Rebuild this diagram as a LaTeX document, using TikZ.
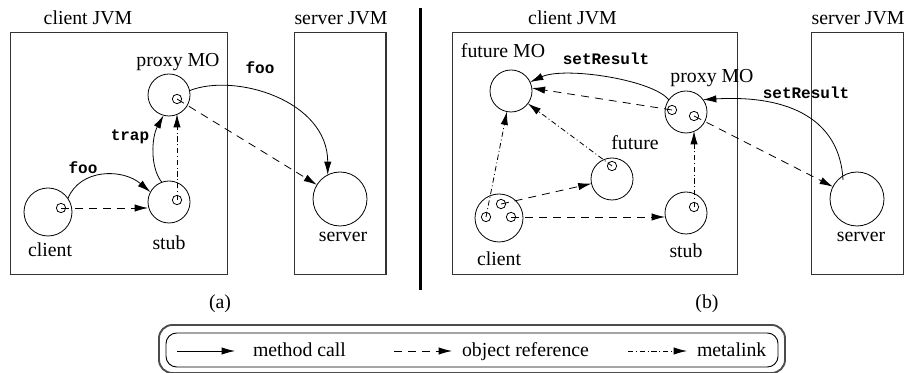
\documentclass[tikz,border=0pt]{standalone}
\usepackage{fontspec}
\setmainfont{Liberation Serif}
\setmonofont{Liberation Mono}
\usetikzlibrary{arrows.meta,calc}
\begin{document}
\begin{tikzpicture}[x=0.75pt,y=-0.75pt,
  every node/.style={inner sep=0pt, outer sep=0pt},
  lbl/.style={font=\fontsize{14.85}{17}\selectfont, anchor=base},
  mlbl/.style={font=\fontsize{12}{14}\selectfont\ttfamily\bfseries, anchor=base},
  obj/.style={circle, draw, line width=0.6pt, minimum size=31.5pt},
  cli/.style={obj, minimum size=36pt},
  srv/.style={obj, minimum size=40.5pt},
  refc/.style={circle, draw, line width=0.6pt, minimum size=7pt},
  conn/.style={line width=0.6pt, -{Latex[length=10pt,width=5.5pt]}},
  call/.style={conn},
  oref/.style={conn, dash pattern=on 6pt off 4.5pt},
  mlink/.style={conn, dash pattern=on 4pt off 2pt on 0.75pt off 2pt},
  jvm/.style={draw=black!80, line width=0.8pt},
]
\useasboundingbox (0,0) rectangle (905,373);

% ---------------- panel (a) ----------------
\draw[jvm] (10.7,32.3) rectangle (227.7,274.3);
\draw[jvm] (294.3,32.3) rectangle (386,274.3);
\node[lbl] (cjvmA) at (88,25) {client JVM};
\node[lbl] (sjvmA) at (341,25) {server JVM};

\node[obj] (proxyA) at (169,95) {};
\node[obj] (stubA) at (169,202) {};
\node[cli] (clientA) at (48,212) {};
\node[srv] (serverA) at (340,199) {};
\node[refc] (prA) at (177,99) {};
\node[refc] (srA) at (177,200) {};
\node[refc] (crA) at (61,208) {};

\node[lbl] (lproxyA) at (178,67) {proxy MO};
\node[lbl] (lstubA) at (169,250) {stub};
\node[lbl] (lclientA) at (50,257) {client};
\node[lbl] (lserverA) at (343,242) {server};
\node[mlbl] (lfoo1) at (83,174) {foo};
\node[mlbl] (ltrap) at (130,141) {trap};
\node[mlbl] (lfoo2) at (260,74) {foo};
\node[lbl] (la) at (220,309) {(a)};

\draw[call] (clientA.34) .. controls +(12,-30) and +(-28,-24) .. (stubA.152);
\draw[oref] (crA.center) -- (crA.center -| stubA.west);
\draw[call] (stubA.110) .. controls +(-12,-15) and +(-12,22) .. (proxyA.255);
\draw[mlink] (srA.center) -- ($(srA.center |- proxyA.south)+(0,-2)$);
\draw[call] (proxyA.12) .. controls +(45,-18) and +(0,-75) .. (serverA.117);
\draw[oref] (prA.center) -- (serverA);

% separator
\draw[line width=2.25pt] (420,8) -- (420,290);

% ---------------- panel (b) ----------------
\draw[jvm] (452.7,32.3) rectangle (737.3,274.3);
\draw[jvm] (811.7,32.3) rectangle (903.3,274.3);
\node[lbl] (cjvmB) at (572.5,25) {client JVM};
\node[lbl] (sjvmB) at (858,25) {server JVM};

\node[obj] (futmo) at (511,91) {};
\node[obj] (future) at (612,179) {};
\node[cli] (clientB) at (499,218) {};
\node[obj] (proxyB) at (686,112) {};
\node[obj] (stubB) at (686,213) {};
\node[srv] (serverB) at (857,199) {};

\node[refc] (frB) at (612,166) {};
\node[refc] (cr1) at (486,217) {};
\node[refc] (cr2) at (501,204) {};
\node[refc] (cr3) at (511,217) {};
\node[refc] (pr1) at (672,110) {};
\node[refc] (pr2) at (694,116) {};
\node[refc] (srB) at (694,207) {};
\coordinate (srvstart) at (843,180);

\node[lbl] (lfutmo) at (503,58) {future MO};
\node[lbl] (lfuture) at (635,150) {future};
\node[lbl] (lclientB) at (499,266) {client};
\node[lbl] (lproxyB) at (712,83) {proxy MO};
\node[lbl] (lstubB) at (686,258) {stub};
\node[lbl] (lserverB) at (861,242) {server};
\node[mlbl] (lset1) at (606,65) {setResult};
\node[mlbl] (lset2) at (806,99) {setResult};
\node[lbl] (lb) at (707,309) {(b)};

\draw[oref] (pr1.center) -- (futmo.8);
\draw[call] (proxyB.145) .. controls +(-15,-20) and +(35,-16) .. (futmo.25);
\draw[mlink] (frB.center) -- (futmo);
\draw[mlink] (cr1.center) -- (futmo);
\draw[oref] (cr2.center) -- (future);
\draw[oref] (cr3.center) -- (cr3.center -| stubB.west);
\draw[mlink] (srB.center) -- ($(srB.center |- proxyB.south)+(0,-2)$);
\draw[oref] (pr2.center) -- (serverB);
\draw[call] (srvstart) .. controls +(-3,-60) and +(87,-5) .. (proxyB.36);

% ---------------- legend ----------------
\draw[draw=black!70, line width=1.4pt, rounded corners=10pt] (159,325) rectangle (785,373);
\draw[line width=0.7pt, rounded corners=8pt] (166,333) rectangle (778,367);
\coordinate (g1a) at (177,351);
\coordinate (g1b) at (235,351);
\coordinate (g2a) at (394,351);
\coordinate (g2b) at (452,351);
\coordinate (g3a) at (628,351);
\coordinate (g3b) at (687,351);
\node[lbl, anchor=base west] (t1) at (253,357) {method call};
\node[lbl, anchor=base west] (t2) at (462,357) {object reference};
\node[lbl, anchor=base west] (t3) at (697,357) {metalink};
\draw[call] (g1a) -- (g1b);
\draw[oref] (g2a) -- (g2b);
\draw[mlink] (g3a) -- (g3b);
\end{tikzpicture}
\end{document}
